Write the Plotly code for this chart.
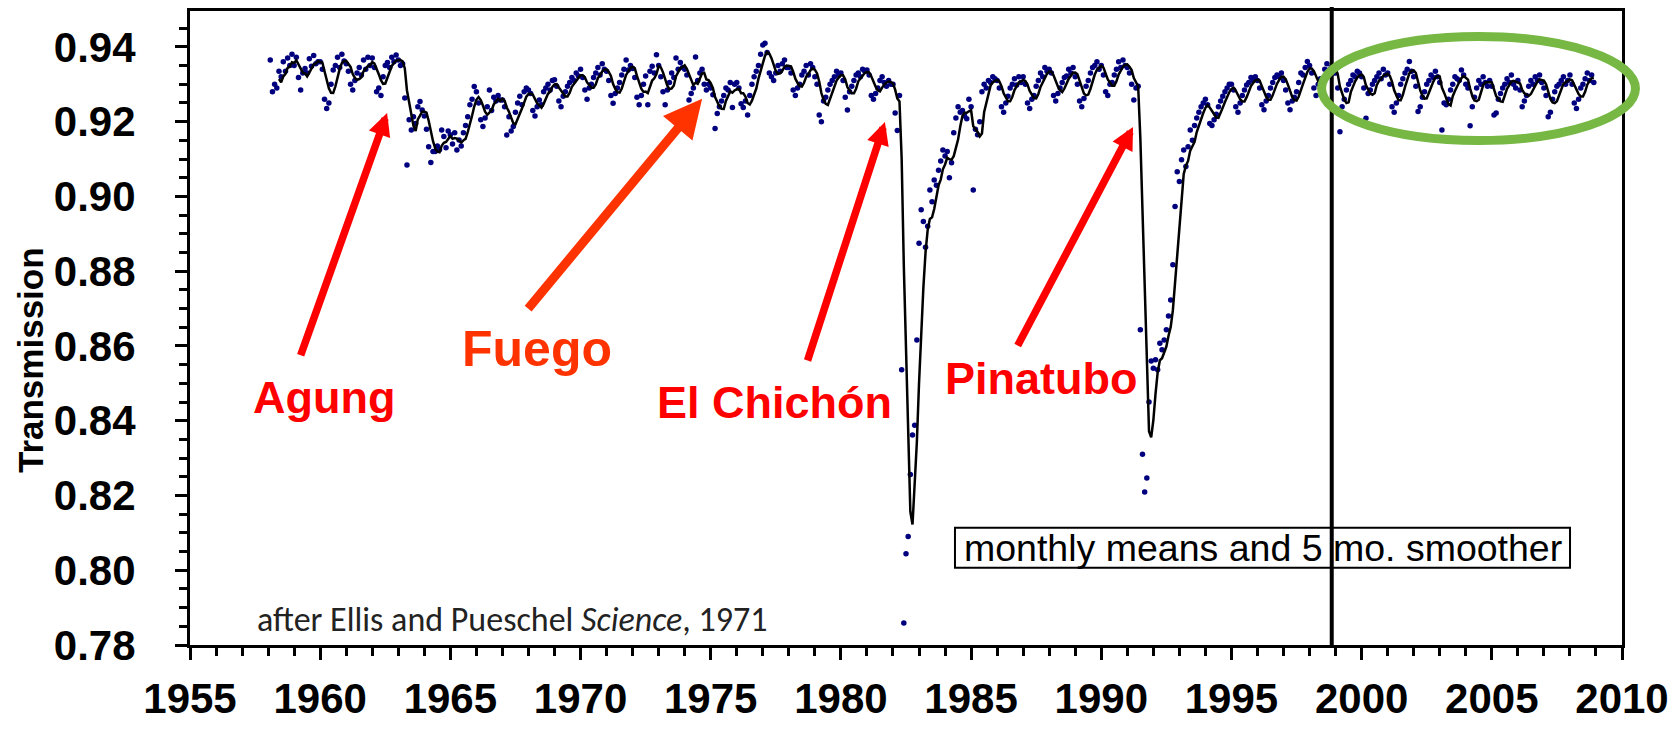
import numpy as np
import pandas as pd
import plotly.graph_objects as go

# Mauna Loa apparent solar transmission, monthly means (first month: Feb 1958)
START_YEAR, START_MONTH = 1958, 2

TRANS_1958_1959 = [
    0.9365, 0.9280, 0.9300, 0.9290, 0.9335, 0.9320, 0.9360, 0.9335, 0.9370, 0.9350, 0.9380,
    0.9350, 0.9372, 0.9318, 0.9285, 0.9330, 0.9342, 0.9330, 0.9368, 0.9348, 0.9377, 0.9355, 0.9360,
]
TRANS_1960S = [
    0.9360, 0.9340, 0.9260, 0.9235, 0.9250, 0.9300, 0.9338, 0.9350, 0.9372, 0.9345, 0.9380, 0.9362,
    0.9355, 0.9335, 0.9300, 0.9285, 0.9310, 0.9330, 0.9345, 0.9325, 0.9365, 0.9340, 0.9372, 0.9350,
    0.9370, 0.9345, 0.9280, 0.9290, 0.9270, 0.9320, 0.9350, 0.9358, 0.9345, 0.9372, 0.9360, 0.9378,
    0.9365, 0.9350, 0.9355, 0.9263, 0.9084, 0.9205, 0.9178, 0.9213, 0.9195, 0.9240, 0.9254, 0.9231,
    0.9215, 0.9180, 0.9133, 0.9091, 0.9120, 0.9120, 0.9135, 0.9125, 0.9178, 0.9160, 0.9130, 0.9175,
    0.9165, 0.9140, 0.9170, 0.9124, 0.9151, 0.9135, 0.9170, 0.9190, 0.9213, 0.9245, 0.9260, 0.9294,
    0.9280, 0.9250, 0.9205, 0.9187, 0.9210, 0.9240, 0.9285, 0.9230, 0.9265, 0.9255, 0.9270, 0.9258,
    0.9258, 0.9240, 0.9164, 0.9213, 0.9175, 0.9187, 0.9225, 0.9250, 0.9268, 0.9245, 0.9280, 0.9290,
    0.9285, 0.9275, 0.9230, 0.9215, 0.9240, 0.9258, 0.9245, 0.9280, 0.9290, 0.9300, 0.9285, 0.9310,
    0.9312, 0.9295, 0.9255, 0.9240, 0.9268, 0.9280, 0.9295, 0.9305, 0.9318, 0.9310, 0.9330, 0.9322,
]
TRANS_1970S = [
    0.9340, 0.9318, 0.9285, 0.9260, 0.9290, 0.9300, 0.9318, 0.9330, 0.9345, 0.9325, 0.9355, 0.9340,
    0.9335, 0.9310, 0.9270, 0.9249, 0.9275, 0.9290, 0.9305, 0.9325, 0.9340, 0.9365, 0.9338, 0.9350,
    0.9342, 0.9318, 0.9265, 0.9245, 0.9270, 0.9300, 0.9322, 0.9245, 0.9335, 0.9348, 0.9330, 0.9379,
    0.9350, 0.9320, 0.9280, 0.9245, 0.9285, 0.9305, 0.9330, 0.9318, 0.9370, 0.9340, 0.9358, 0.9345,
    0.9340, 0.9325, 0.9258, 0.9275, 0.9290, 0.9373, 0.9310, 0.9330, 0.9340, 0.9300, 0.9285, 0.9300,
    0.9290, 0.9272, 0.9182, 0.9222, 0.9240, 0.9255, 0.9270, 0.9290, 0.9285, 0.9305, 0.9238, 0.9300,
    0.9305, 0.9290, 0.9248, 0.9238, 0.9255, 0.9218, 0.9270, 0.9300, 0.9320, 0.9335, 0.9350, 0.9380,
    0.9405, 0.9410, 0.9385, 0.9330, 0.9320, 0.9310, 0.9330, 0.9350, 0.9335, 0.9355, 0.9365, 0.9345,
    0.9345, 0.9330, 0.9285, 0.9270, 0.9290, 0.9300, 0.9325, 0.9335, 0.9350, 0.9325, 0.9355, 0.9345,
    0.9320, 0.9300, 0.9218, 0.9200, 0.9255, 0.9265, 0.9285, 0.9300, 0.9310, 0.9320, 0.9335, 0.9325,
]
TRANS_1980S = [
    0.9330, 0.9310, 0.9265, 0.9231, 0.9280, 0.9295, 0.9310, 0.9325, 0.9330, 0.9320, 0.9340, 0.9335,
    0.9338, 0.9325, 0.9270, 0.9260, 0.9275, 0.9290, 0.9310, 0.9320, 0.9305, 0.9295, 0.9310, 0.9300,
    0.9300, 0.9223, 0.9176, 0.9270, 0.8536, 0.7859, 0.8044, 0.8090, 0.8256, 0.8362, 0.8388, 0.8616,
    0.8875, 0.8964, 0.8933, 0.8864, 0.8920, 0.9017, 0.8986, 0.9044, 0.9030, 0.9070, 0.9095, 0.9124,
    0.9108, 0.9120, 0.9050, 0.9090, 0.9170, 0.9210, 0.9240, 0.9225, 0.9230, 0.9215, 0.9208, 0.9260,
    0.9240, 0.9017, 0.9180, 0.9165, 0.9200, 0.9280, 0.9300, 0.9290, 0.9310, 0.9305, 0.9320, 0.9315,
    0.9310, 0.9290, 0.9240, 0.9225, 0.9250, 0.9268, 0.9290, 0.9300, 0.9315, 0.9298, 0.9320, 0.9305,
    0.9320, 0.9300, 0.9250, 0.9235, 0.9260, 0.9270, 0.9295, 0.9310, 0.9330, 0.9320, 0.9345, 0.9335,
    0.9340, 0.9330, 0.9270, 0.9255, 0.9275, 0.9290, 0.9305, 0.9318, 0.9322, 0.9340, 0.9330, 0.9345,
    0.9320, 0.9300, 0.9255, 0.9240, 0.9262, 0.9295, 0.9310, 0.9330, 0.9345, 0.9350, 0.9360, 0.9340,
]
TRANS_1990S = [
    0.9350, 0.9325, 0.9280, 0.9270, 0.9300, 0.9305, 0.9325, 0.9340, 0.9360, 0.9345, 0.9365, 0.9350,
    0.9345, 0.9330, 0.9300, 0.9258, 0.9290, 0.9295, 0.8643, 0.8310, 0.8209, 0.8247, 0.8450, 0.8560,
    0.8540, 0.8563, 0.8536, 0.8607, 0.8590, 0.8616, 0.8643, 0.8680, 0.8723, 0.8817, 0.8973, 0.9066,
    0.9040, 0.9098, 0.9124, 0.9080, 0.9133, 0.9178, 0.9150, 0.9190, 0.9210, 0.9225, 0.9240, 0.9250,
    0.9260, 0.9245, 0.9195, 0.9190, 0.9205, 0.9220, 0.9240, 0.9255, 0.9268, 0.9280, 0.9290, 0.9300,
    0.9300, 0.9285, 0.9240, 0.9225, 0.9250, 0.9270, 0.9285, 0.9298, 0.9305, 0.9318, 0.9310, 0.9320,
    0.9310, 0.9290, 0.9245, 0.9232, 0.9255, 0.9270, 0.9290, 0.9305, 0.9318, 0.9325, 0.9320, 0.9330,
    0.9310, 0.9285, 0.9250, 0.9232, 0.9255, 0.9265, 0.9280, 0.9305, 0.9330, 0.9325, 0.9345, 0.9361,
    0.9350, 0.9330, 0.9290, 0.9270, 0.9300, 0.9315, 0.9305, 0.9340, 0.9355, 0.9338, 0.9345, 0.9330,
    0.9330, 0.9290, 0.9173, 0.9240, 0.9260, 0.9285, 0.9300, 0.9310, 0.9325, 0.9320, 0.9335, 0.9330,
]
TRANS_2000S = [
    0.9320, 0.9290, 0.9209, 0.9275, 0.9285, 0.9300, 0.9310, 0.9320, 0.9330, 0.9315, 0.9340, 0.9325,
    0.9330, 0.9300, 0.9240, 0.9225, 0.9250, 0.9270, 0.9300, 0.9315, 0.9330, 0.9340, 0.9361, 0.9335,
    0.9320, 0.9295, 0.9227, 0.9240, 0.9265, 0.9280, 0.9300, 0.9310, 0.9325, 0.9318, 0.9335, 0.9320,
    0.9305, 0.9178, 0.9250, 0.9245, 0.9260, 0.9285, 0.9300, 0.9320, 0.9315, 0.9310, 0.9338, 0.9325,
    0.9300, 0.9290, 0.9189, 0.9240, 0.9265, 0.9290, 0.9310, 0.9300, 0.9320, 0.9305, 0.9295, 0.9310,
    0.9295, 0.9218, 0.9223, 0.9260, 0.9275, 0.9290, 0.9300, 0.9315, 0.9305, 0.9325, 0.9300, 0.9290,
    0.9310, 0.9285, 0.9240, 0.9255, 0.9270, 0.9295, 0.9310, 0.9300, 0.9320, 0.9310, 0.9325, 0.9305,
    0.9290, 0.9270, 0.9213, 0.9225, 0.9260, 0.9280, 0.9295, 0.9300, 0.9310, 0.9320, 0.9300, 0.9310,
    0.9325, 0.9300, 0.9250, 0.9235, 0.9260, 0.9290, 0.9300, 0.9315, 0.9330, 0.9310, 0.9325, 0.9305,
]

# Axis ticks
X_TICKS = [1955, 1960, 1965, 1970, 1975, 1980, 1985, 1990, 1995, 2000, 2005, 2010]
Y_TICKS = [0.78, 0.80, 0.82, 0.84, 0.86, 0.88, 0.90, 0.92, 0.94]

# Volcano labels: name, label centre (year, value), arrow tail, arrow tip
VOLCANOES = ["Agung", "Fuego", "El Chichón", "Pinatubo"]
LABEL_XY = [(1960.15, 0.8461), (1968.33, 0.8593), (1977.43, 0.8450), (1987.69, 0.8512)]
ARROW_TAIL = [(1959.23, 0.8571), (1967.94, 0.8696), (1978.70, 0.8557), (1986.76, 0.8597)]
ARROW_TIP = [(1962.57, 0.9223), (1974.67, 0.9261), (1981.69, 0.9199), (1991.22, 0.9186)]

transmission = np.array(TRANS_1958_1959 + TRANS_1960S + TRANS_1970S
                        + TRANS_1980S + TRANS_1990S + TRANS_2000S)
month_index = np.arange(len(transmission)) + (START_MONTH - 1)
decimal_year = START_YEAR + month_index / 12.0
smoothed = pd.Series(transmission).rolling(5).mean()

RED = "#ff0000"
ORANGE_RED = "#ff3300"
SANS = "Liberation Sans, Arial, sans-serif"

fig = go.Figure()
fig.add_trace(go.Scatter(
    x=decimal_year, y=transmission, mode="markers",
    marker=dict(size=5.5, color="#00007f", line=dict(width=0)),
    showlegend=False, cliponaxis=False,
))
fig.add_trace(go.Scatter(
    x=decimal_year, y=smoothed, mode="lines",
    line=dict(color="black", width=2.5),
    showlegend=False,
))

axis_common = dict(
    showgrid=False, zeroline=False, showline=True, mirror=True,
    linecolor="black", linewidth=3, automargin=False,
    ticks="outside", ticklen=12, tickwidth=2.5, tickcolor="black",
    tickfont=dict(family=SANS, size=42, color="black", weight="bold"),
)
fig.update_xaxes(
    range=[1955, 2010], tickvals=X_TICKS, ticklabelstandoff=3,
    minor=dict(dtick=1, tick0=1955, ticks="outside", ticklen=8, tickwidth=2.5, tickcolor="black"),
    **axis_common,
)
fig.update_yaxes(
    range=[0.78, 0.9496], tickvals=Y_TICKS, tickformat=".2f", ticklabelstandoff=31,
    minor=dict(dtick=0.005, tick0=0.78, ticks="outside", ticklen=8, tickwidth=2.5, tickcolor="black"),
    **axis_common,
)

annotations = []
for i, name in enumerate(VOLCANOES):
    colour = ORANGE_RED if name == "Fuego" else RED
    big = name == "Fuego"
    annotations.append(dict(
        x=ARROW_TIP[i][0], y=ARROW_TIP[i][1], ax=ARROW_TAIL[i][0], ay=ARROW_TAIL[i][1],
        xref="x", yref="y", axref="x", ayref="y", text="", showarrow=True,
        arrowhead=2, arrowsize=0.85 if big else 0.6, arrowwidth=9 if big else 7.5,
        arrowcolor=colour,
    ))
    annotations.append(dict(
        x=LABEL_XY[i][0], y=LABEL_XY[i][1], xref="x", yref="y", text=name,
        showarrow=False, xanchor="center", yanchor="middle",
        font=dict(family=SANS, size=50 if big else 45, color=colour, weight="bold"),
    ))

annotations.append(dict(
    x=-0.1117, y=0.4495, xref="paper", yref="paper", text="Transmission",
    textangle=-90, showarrow=False, xanchor="center", yanchor="middle",
    font=dict(family=SANS, size=35, color="black", weight="bold"),
))
annotations.append(dict(
    x=0.749, y=0.153, xref="paper", yref="paper",
    text="monthly means and 5 mo. smoother", showarrow=False,
    xanchor="center", yanchor="middle",
    font=dict(family=SANS, size=37.5, color="black"),
))
annotations.append(dict(
    x=0.0454, y=0.0410, xref="paper", yref="paper",
    text="after Ellis and Pueschel <i>Science</i>, 1971", showarrow=False,
    xanchor="left", yanchor="middle",
    font=dict(family="Carlito, Calibri, Open Sans, sans-serif", size=34, color="#222222"),
))

shapes = [
    # legend box
    dict(type="rect", xref="paper", yref="paper", x0=0.5342, x1=0.9637, y0=0.1218, y1=0.1849,
         line=dict(color="black", width=2), fillcolor="rgba(0,0,0,0)", layer="above"),
    # 1999 marker line
    dict(type="line", xref="paper", yref="paper", x0=0.7973, x1=0.7973, y0=0.0, y1=1.0063,
         line=dict(color="black", width=4), layer="above"),
    # highlight of the post-1999 record
    dict(type="circle", xref="paper", yref="paper", x0=0.7902, x1=1.0094, y0=0.7957, y1=0.9598,
         line=dict(color="#76b843", width=9), fillcolor="rgba(0,0,0,0)", layer="above"),
]

fig.update_layout(
    width=1677, height=730,
    margin=dict(l=190, r=55, t=11, b=85),
    paper_bgcolor="white", plot_bgcolor="white",
    annotations=annotations, shapes=shapes,
    showlegend=False,
)

fig.write_html("out.html")
